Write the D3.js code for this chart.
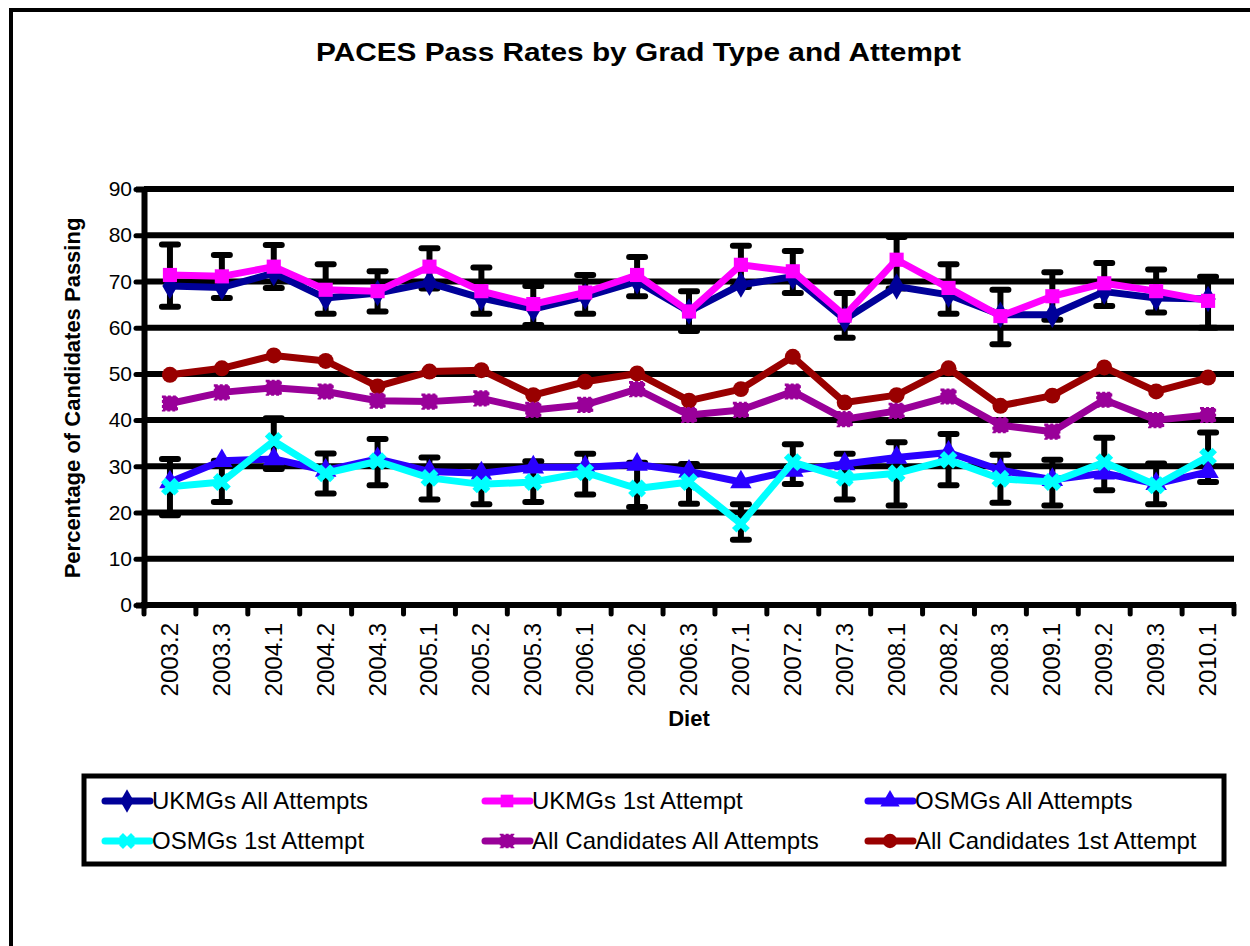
<!DOCTYPE html>
<html>
<head>
<meta charset="utf-8">
<script src="https://cdn.jsdelivr.net/npm/d3@7"></script>
<style>
  body { margin: 0; background: #fff; }
  svg { display: block; font-family: "Liberation Sans", Arial, sans-serif; }
</style>
</head>
<body>
<svg></svg>
<script>
var diets = ['2003.2', '2003.3', '2004.1', '2004.2', '2004.3', '2005.1', '2005.2', '2005.3', '2006.1', '2006.2', '2006.3',
  '2007.1', '2007.2', '2007.3', '2008.1', '2008.2', '2008.3', '2009.1', '2009.2', '2009.3', '2010.1'];
var yTicks = [0, 10, 20, 30, 40, 50, 60, 70, 80, 90];

var ukAll = [69, 68.7, 71.8, 66.4, 67.5, 69.7, 66.4, 64, 66.7, 70, 63.5, 69.3, 71, 61.8, 68.9, 67.1, 62.8, 62.8, 67.8, 66.4, 66.2];
var ukFirst = [71.4, 71.1, 73.2, 68.2, 67.9, 73.2, 67.9, 65.1, 67.6, 71.4, 63.5, 73.6, 72.2, 62.6, 74.7, 68.6, 62.5, 66.8, 69.6, 67.9, 65.8];
var osAll = [26.6, 31.2, 31.6, 29.1, 31.6, 28.9, 28.5, 29.8, 29.8, 30.4, 28.9, 26.6, 29.1, 30.5, 31.9, 33, 29.2, 27.1, 28.5, 26.2, 28.8];
var osFirst = [25.6, 26.6, 35.5, 28.5, 31.1, 27.5, 26.1, 26.6, 28.7, 25.2, 26.6, 17.6, 30.9, 27.5, 28.5, 31.4, 27.3, 26.6, 30.9, 25.9, 32.1];
var allAll = [43.6, 46, 47, 46.2, 44.2, 44, 44.7, 42.2, 43.3, 46.7, 41.1, 42.2, 46.2, 40.2, 42, 45.1, 38.9, 37.5, 44.4, 40, 41.1];
var allFirst = [49.8, 51.2, 54, 52.8, 47.3, 50.5, 50.8, 45.4, 48.3, 50.1, 44.2, 46.7, 53.7, 43.8, 45.4, 51.2, 43.1, 45.3, 51.4, 46.2, 49.2];

// error bar ends
var ukErrLow = [64.5, 66.4, 68.6, 63, 63.5, 68.5, 63, 60.6, 63, 66.8, 59.3, 68.8, 67.5, 57.8, 68.5, 63, 56.4, 61.7, 64.7, 63.3, 60];
var ukErrHigh = [78, 75.7, 77.9, 73.7, 72.2, 77.2, 73, 69, 71.4, 75.3, 67.9, 77.7, 76.6, 67.5, 79.6, 73.7, 68.2, 72, 74, 72.6, 71];
var osErrLow = [19.4, 22.3, 29.4, 24.1, 25.9, 22.8, 21.8, 22.3, 23.9, 21.2, 21.9, 14.1, 26.2, 22.8, 21.5, 25.9, 22.1, 21.5, 24.8, 21.8, 26.6];
var osErrHigh = [31.6, 31.2, 40.4, 32.8, 35.9, 31.9, 29.6, 31.1, 32.7, 30.8, 30.5, 21.8, 34.8, 32.7, 35.2, 37, 32.5, 31.4, 36.2, 30.6, 37.3];

var series = [
  { name: 'UKMGs All Attempts', values: ukAll, color: '#000099', shape: 'diamond' },
  { name: 'UKMGs 1st Attempt', values: ukFirst, color: '#ff00ff', shape: 'square' },
  { name: 'OSMGs All Attempts', values: osAll, color: '#2a00ff', shape: 'triangle' },
  { name: 'OSMGs 1st Attempt', values: osFirst, color: '#00ffff', shape: 'x' },
  { name: 'All Candidates All Attempts', values: allAll, color: '#990099', shape: 'star' },
  { name: 'All Candidates 1st Attempt', values: allFirst, color: '#990000', shape: 'circle' }
];
var errors = [
  { low: ukErrLow, high: ukErrHigh },
  { low: osErrLow, high: osErrHigh }
];

var width = 1250, height = 946;
var plotLeft = 144, plotRight = 1234, plotTop = 189, plotBottom = 605;

var svg = d3.select('svg').attr('width', width).attr('height', height);

svg.append('rect')
  .attr('x', 11).attr('y', 10)
  .attr('width', 1300).attr('height', 1000)
  .attr('fill', 'none').attr('stroke', '#000').attr('stroke-width', 4);

svg.append('text')
  .attr('x', 316).attr('y', 61)
  .attr('font-size', 25).attr('font-weight', 'bold')
  .attr('textLength', 645).attr('lengthAdjust', 'spacingAndGlyphs')
  .text('PACES Pass Rates by Grad Type and Attempt');

var x = d3.scaleBand().domain(diets).range([plotLeft, plotRight]);
var y = d3.scaleLinear().domain([0, 90]).range([plotBottom, plotTop]);
var cx = d => x(d) + x.bandwidth() / 2;

// gridlines
svg.append('g').selectAll('line')
  .data(yTicks.filter(t => t > 0))
  .enter().append('line')
  .attr('x1', plotLeft).attr('x2', plotRight)
  .attr('y1', d => y(d)).attr('y2', d => y(d))
  .attr('stroke', '#000').attr('stroke-width', 6);

// y axis
var yAxis = svg.append('g')
  .attr('transform', `translate(${plotLeft},0)`)
  .call(d3.axisLeft(y).tickValues(yTicks).tickSize(8).tickPadding(4));
yAxis.select('.domain').attr('stroke-width', 6);
yAxis.selectAll('.tick line').attr('stroke-width', 5).attr('stroke-linecap', 'round');
yAxis.selectAll('.tick text').attr('font-size', 21).attr('fill', '#000')
  .attr('font-family', '"Liberation Sans", Arial, sans-serif');

// x axis line and boundary ticks
svg.append('line')
  .attr('x1', plotLeft - 3).attr('x2', plotRight + 2)
  .attr('y1', plotBottom).attr('y2', plotBottom)
  .attr('stroke', '#000').attr('stroke-width', 6);
var bounds = diets.map(d => x(d)).concat([plotRight]);
svg.append('g').selectAll('line')
  .data(bounds)
  .enter().append('line')
  .attr('x1', d => d).attr('x2', d => d)
  .attr('y1', plotBottom).attr('y2', plotBottom + 9)
  .attr('stroke', '#000').attr('stroke-width', 5).attr('stroke-linecap', 'round');
svg.append('g').selectAll('text')
  .data(diets)
  .enter().append('text')
  .attr('transform', d => `translate(${cx(d) + 8},${623}) rotate(-90)`)
  .attr('text-anchor', 'end')
  .attr('font-size', 24)
  .text(d => d);

svg.append('text')
  .attr('x', 689).attr('y', 726)
  .attr('text-anchor', 'middle')
  .attr('font-size', 22).attr('font-weight', 'bold')
  .text('Diet');

svg.append('text')
  .attr('transform', `translate(80,${398}) rotate(-90)`)
  .attr('text-anchor', 'middle')
  .attr('font-size', 22).attr('font-weight', 'bold')
  .text('Percentage of Candidates Passing');

// error bars
errors.forEach(function (e) {
  var g = svg.append('g');
  diets.forEach(function (d, i) {
    g.append('line')
      .attr('x1', cx(d)).attr('x2', cx(d))
      .attr('y1', y(e.low[i])).attr('y2', y(e.high[i]))
      .attr('stroke', '#000').attr('stroke-width', 6);
    [e.low[i], e.high[i]].forEach(function (v) {
      g.append('line')
        .attr('x1', cx(d) - 8).attr('x2', cx(d) + 8)
        .attr('y1', y(v)).attr('y2', y(v))
        .attr('stroke', '#000').attr('stroke-width', 6)
        .attr('stroke-linecap', 'round');
    });
  });
});

function symbolPath(shape, size) {
  var map = {
    diamond: d3.symbolDiamond, square: d3.symbolSquare, triangle: d3.symbolTriangle,
    x: d3.symbolCross, star: d3.symbolSquare, circle: d3.symbolCircle
  };
  return d3.symbol().type(map[shape]).size(size)();
}
function addMarker(g, s, px, py, size) {
  var rot = s.shape === 'x' ? 45 : 0;
  g.append('path')
    .attr('d', symbolPath(s.shape, size))
    .attr('transform', `translate(${px},${py}) rotate(${rot})`)
    .attr('fill', s.color)
    .attr('stroke', s.shape === 'star' ? s.color : 'none')
    .attr('stroke-width', s.shape === 'star' ? 2 : 0)
    .attr('stroke-dasharray', s.shape === 'star' ? '3,2' : null);
}

var line = d3.line().x(d => cx(d.diet)).y(d => y(d.v));
var drawOrder = [5, 4, 2, 3, 0, 1];
drawOrder.forEach(function (k) {
  var s = series[k];
  var pts = diets.map((d, i) => ({ diet: d, v: s.values[i] }));
  var g = svg.append('g');
  g.append('path')
    .attr('d', line(pts))
    .attr('fill', 'none')
    .attr('stroke', s.color)
    .attr('stroke-width', 7)
    .attr('stroke-linejoin', 'round');
  pts.forEach(p => addMarker(g, s, cx(p.diet), y(p.v), 200));
});

// legend
svg.append('rect')
  .attr('x', 84).attr('y', 776)
  .attr('width', 1140).attr('height', 88)
  .attr('fill', '#fff').attr('stroke', '#000').attr('stroke-width', 5);
var colX = [105, 485, 868];
var rowY = [801, 841];
series.forEach(function (s, i) {
  var lx = colX[i % 3], ly = rowY[Math.floor(i / 3)];
  var g = svg.append('g');
  g.append('line')
    .attr('x1', lx).attr('x2', lx + 45)
    .attr('y1', ly).attr('y2', ly)
    .attr('stroke', s.color).attr('stroke-width', 7)
    .attr('stroke-linecap', 'round');
  addMarker(g, s, lx + 22, ly, 160);
  g.append('text')
    .attr('x', lx + 47).attr('y', ly + 8)
    .attr('font-size', 24)
    .text(s.name);
});
</script>
</body>
</html>
